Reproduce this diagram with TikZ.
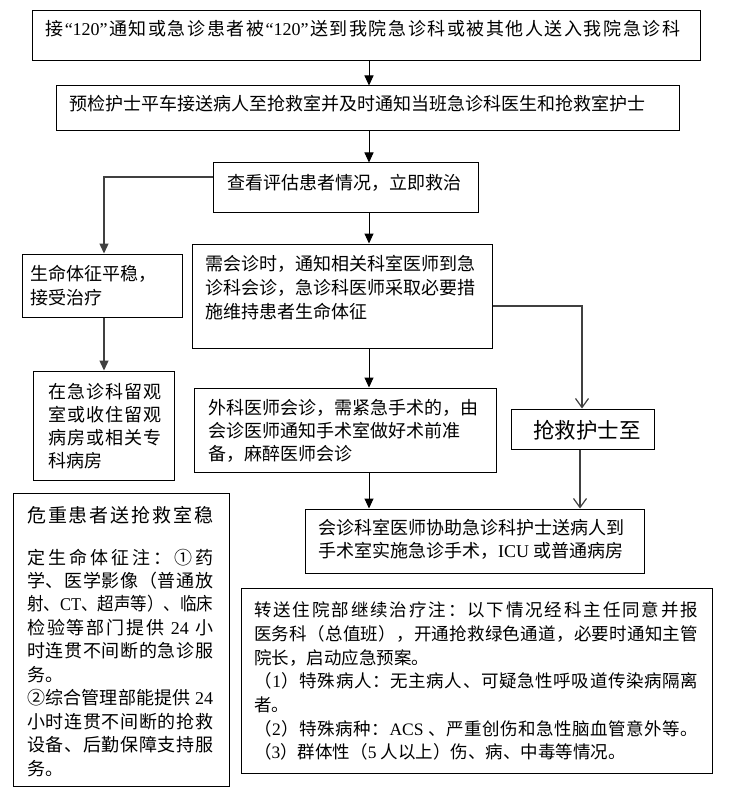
\documentclass[tikz,border=0pt]{standalone}
\usepackage{fontspec}
\usepackage{graphicx}
\setmainfont{Noto Sans CJK SC}
\newfontfamily\latf{Liberation Serif}
\usetikzlibrary{arrows.meta}
\newcommand\lat[1]{{\latf #1}}
\newcommand\st{\rule{0pt}{.9em}}
\makeatletter
\newcommand\jl[2]{%
  \setbox0=\hbox{#2}%
  \ifdim\wd0>#1\relax
    \resizebox{#1}{\height}{\box0}%
  \else
    \hbox to #1{\@tfor\jl@x:=#2\do{\jl@x\hfil}\unskip}%
  \fi}
\makeatother
\begin{document}
\begin{tikzpicture}[x=1pt,y=-1pt,
  box/.style={draw, line width=1pt, inner sep=0pt},
  txt/.style={anchor=north west, inner sep=0pt, align=left, font=\fontsize{18}{24}\selectfont},
  arr/.style={line width=1pt, -{Triangle[length=10pt,width=9pt]}},
  garr/.style={line width=1.3pt, draw=black!75, -{Triangle[length=10pt,width=9pt]}},
  oarr/.style={line width=1.2pt, draw=black!75, -{Straight Barb[length=9pt,width=13pt]}}]
\useasboundingbox[fill=white] (0,0) rectangle (728,794);

% boxes
\node[box, minimum width=668pt, minimum height=50pt] (b1) at (366,36) {};
\node[box, minimum width=623pt, minimum height=45pt] (b2) at (367.5,108.5) {};
\node[box, minimum width=265pt, minimum height=50pt] (b3) at (345.5,188) {};
\node[box, minimum width=160pt, minimum height=63pt] (b4) at (102,285.5) {};
\node[box, minimum width=300pt, minimum height=104pt] (b5) at (342,296) {};
\node[box, minimum width=141pt, minimum height=109pt] (b6) at (103.5,425.5) {};
\node[box, minimum width=143pt, minimum height=40pt] (b7) at (582.5,429) {};
\node[box, minimum width=302pt, minimum height=84pt] (b8) at (345,430) {};
\node[box, minimum width=339pt, minimum height=64pt] (b9) at (474.5,541) {};
\node[box, minimum width=216pt, minimum height=293pt] (b10) at (121,639.5) {};
\node[box, minimum width=471pt, minimum height=185pt] (b11) at (476.5,680.5) {};

% texts
\node[txt] (t1) at (45,19.6) {\st\jl{635pt}{接{\lat{“120”}}通知或急诊患者被{\lat{“120”}}送到我院急诊科或被其他人送入我院急诊科}};
\node[txt] (t2) at (69,94.6) {\st 预检护士平车接送病人至抢救室并及时通知当班急诊科医生和抢救室护士};
\node[txt] (t3) at (227,173.6) {\st 查看评估患者情况，立即救治};
\node[txt] (t4) at (30,263.6) {\st 生命体征平稳，\\接受治疗};
\node[txt] (t5) at (205,253.6) {\st 需会诊时，通知相关科室医师到急\\诊科会诊，急诊科医师采取必要措\\施维持患者生命体征};
\node[txt, font=\fontsize{18}{23}\selectfont] (t6) at (48,381.6) {\st\jl{113pt}{在急诊科留观}\\\jl{113pt}{室或收住留观}\\\jl{113pt}{病房或相关专}\\科病房};
\node[txt, font=\fontsize{21.5}{26}\selectfont] (t7) at (533,418.8) {\st 抢救护士至};
\node[txt, font=\fontsize{18}{23}\selectfont] (t8) at (208,397.6) {\st 外科医师会诊，需紧急手术的，由\\会诊医师通知手术室做好术前准\\备，麻醉医师会诊};
\node[txt, font=\fontsize{18}{23}\selectfont] (t9) at (318,517.6) {\st 会诊科室医师协助急诊科护士送病人到\\手术室实施急诊手术，\lat{ICU} 或普通病房};
\node[txt, font=\fontsize{19}{24}\selectfont] (t10a) at (27,505.1) {\st\jl{186pt}{危重患者送抢救室稳}};
\node[txt, font=\fontsize{18}{23.45}\selectfont] (t10b) at (27,547.6) {\st\jl{186pt}{定生命体征注：①药}\\
\jl{186pt}{学、医学影像（普通放}\\
\jl{186pt}{射、{\lat{CT}}、超声等）、临床}\\
\jl{186pt}{检验等部门提供{\lat{\ 24\ }}小}\\
\jl{186pt}{时连贯不间断的急诊服}\\
务。\\
\jl{186pt}{②综合管理部能提供{\lat{\ 24}}}\\
\jl{186pt}{小时连贯不间断的抢救}\\
\jl{186pt}{设备、后勤保障支持服}\\
务。};
\node[txt, font=\fontsize{17.5}{23.67}\selectfont] (t11) at (254,600.9) {\st\jl{444pt}{转送住院部继续治疗注：以下情况经科主任同意并报}\\
\jl{444pt}{医务科（总值班），开通抢救绿色通道，必要时通知主管}\\
院长，启动应急预案。\\
\jl{444pt}{（{\lat{1}}）特殊病人：无主病人、可疑急性呼吸道传染病隔离}\\
者。\\
\jl{444pt}{（{\lat{2}}）特殊病种：{\lat{ACS\ }}、严重创伤和急性脑血管意外等。}\\
（\lat{3}）群体性（\lat{5} 人以上）伤、病、中毒等情况。};

% connectors
\coordinate (ax) at (369,0);
\coordinate (lj) at (104,177);
\coordinate (rj) at (582,306);
\coordinate (rk) at (580,0);
\draw[arr] (b1.south -| ax) -- (b2.north -| ax);
\draw[arr] (b2.south -| ax) -- (b3.north -| ax);
\draw[arr] (b3.south -| ax) -- (b5.north -| ax);
\draw[arr] (b5.south -| ax) -- (b8.north -| ax);
\draw[arr] (b8.south -| ax) -- (b9.north -| ax);
\draw[garr] (b3.west |- lj) -- (lj) -- (b4.north -| lj);
\draw[garr] (b4.south -| lj) -- (b6.north -| lj);
\draw[oarr] (b5.east |- rj) -- (rj) -- (b7.north -| rj);
\draw[oarr] (b7.south -| rk) -- (b9.north -| rk);
\end{tikzpicture}
\end{document}
